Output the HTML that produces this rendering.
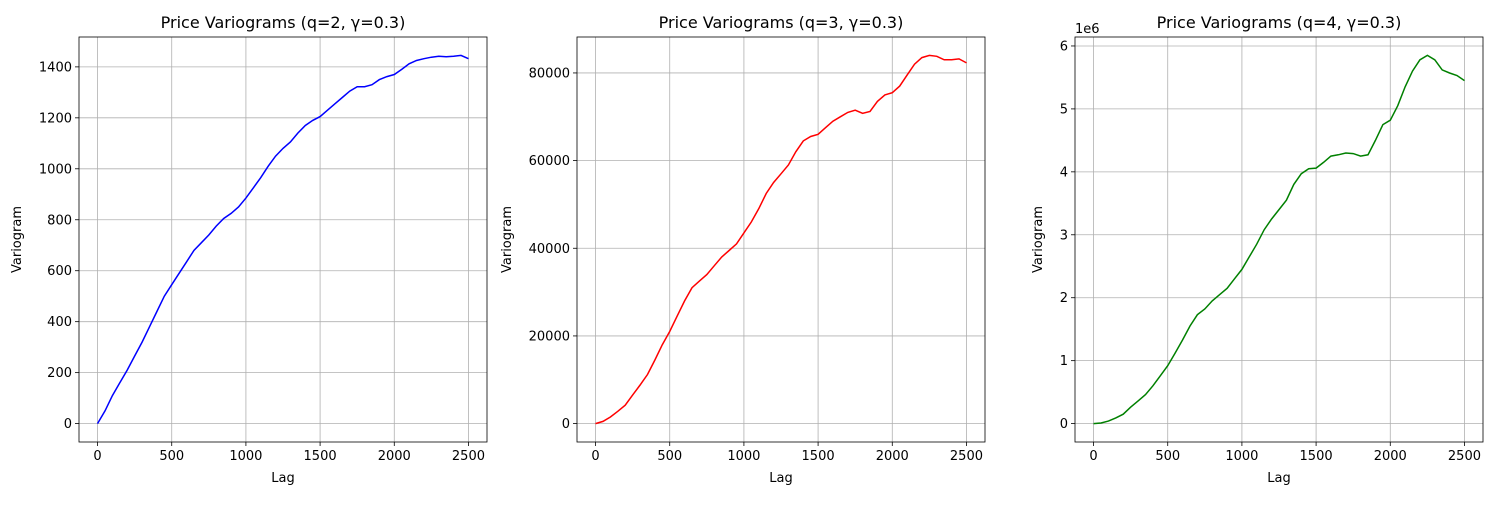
<!DOCTYPE html>
<html><head><meta charset="utf-8"><style>
body{margin:0;background:#fff}
svg text{font-family:"DejaVu Sans","Liberation Sans",sans-serif;fill:#000}
</style></head><body>
<svg id="c" width="1500" height="500" xmlns="http://www.w3.org/2000/svg"></svg>
<script>
const lags=[0,50,100,150,200,250,300,350,400,450,500,550,600,650,700,750,800,850,900,950,1000,1050,1100,1150,1200,1250,1300,1350,1400,1450,1500,1550,1600,1650,1700,1750,1800,1850,1900,1950,2000,2050,2100,2150,2200,2250,2300,2350,2400,2450,2500];
const varQ2=[0,50,110,160,210,265,320,380,440,500,545,590,635,680,710,740,775,805,825,850,885,925,965,1010,1050,1080,1105,1140,1170,1190,1205,1230,1255,1280,1305,1322,1322,1330,1350,1362,1370,1390,1412,1425,1432,1438,1442,1440,1442,1445,1432];
const varQ3=[0,500,1500,2800,4200,6500,8800,11200,14500,18000,21000,24500,28000,31000,32500,34000,36000,38000,39500,41000,43500,46000,49000,52500,55000,57000,59000,62000,64500,65500,66000,67500,69000,70000,71000,71500,70800,71200,73500,75000,75500,77000,79500,82000,83500,84000,83800,83000,83000,83200,82300];
const varQ4=[0,0.01,0.04,0.09,0.15,0.26,0.36,0.46,0.6,0.76,0.92,1.12,1.33,1.55,1.73,1.82,1.95,2.05,2.15,2.3,2.45,2.65,2.85,3.08,3.25,3.4,3.55,3.8,3.97,4.05,4.06,4.15,4.25,4.27,4.3,4.29,4.25,4.27,4.5,4.75,4.82,5.05,5.35,5.6,5.78,5.85,5.78,5.62,5.57,5.53,5.45];
const xTicks=[0,500,1000,1500,2000,2500];
const yTicks1=[0,200,400,600,800,1000,1200,1400];
const yTicks2=[0,20000,40000,60000,80000];
const yTicks3=[0,1,2,3,4,5,6];
const titles=["Price Variograms (q=2, γ=0.3)","Price Variograms (q=3, γ=0.3)","Price Variograms (q=4, γ=0.3)"];
const NS="http://www.w3.org/2000/svg";
const svg=document.getElementById('c');
function el(t,a,p){const e=document.createElementNS(NS,t);for(const k in a)e.setAttribute(k,a[k]);(p||svg).appendChild(e);return e;}
const panels=[
 {x0:79,series:varQ2,ticks:yTicks1,color:"#0000ff",name:"q2"},
 {x0:577,series:varQ3,ticks:yTicks2,color:"#ff0000",name:"q3"},
 {x0:1075,series:varQ4,ticks:yTicks3,color:"#008000",name:"q4",off:"1e6"}];
const T=37,B=442,W=408;
panels.forEach((p,i)=>{
 const g=el('g',{});
 
 
 const ymax=Math.max(...p.series),ymin=Math.min(...p.series),r=ymax-ymin;
 const y0=ymin-0.05*r,y1=ymax+0.05*r;
 const xmin=-125,xmax=2625;
 const X=v=>p.x0+(v-xmin)/(xmax-xmin)*W;
 const Y=v=>B-(v-y0)/(y1-y0)*(B-T);
 xTicks.forEach(t=>{
  el('line',{x1:X(t),x2:X(t),y1:T,y2:B,stroke:"#b0b0b0","stroke-width":0.8},g);
  el('line',{x1:X(t),x2:X(t),y1:B,y2:B+4,stroke:"#000","stroke-width":0.8},g);
  const tx=el('text',{x:X(t),y:B+18,"text-anchor":"middle","font-size":13},g);tx.textContent=t;
  
  
 });
 p.ticks.forEach(t=>{
  el('line',{x1:p.x0,x2:p.x0+W,y1:Y(t),y2:Y(t),stroke:"#b0b0b0","stroke-width":0.8},g);
  el('line',{x1:p.x0-4,x2:p.x0,y1:Y(t),y2:Y(t),stroke:"#000","stroke-width":0.8},g);
  const tx=el('text',{x:p.x0-7,y:Y(t)+4.5,"text-anchor":"end","font-size":13},g);tx.textContent=t;
  
  
 });
 const d=lags.map((l,j)=>(j?'L':'M')+X(l).toFixed(1)+','+Y(p.series[j]).toFixed(1)).join('');
 const path=el('path',{d:d,fill:"none",stroke:p.color,"stroke-width":1.5},g);
 
 
 el('rect',{x:p.x0,y:T,width:W,height:B-T,fill:"none",stroke:"#000","stroke-width":0.8},g);
 const tt=el('text',{x:p.x0+W/2,y:T-9,"text-anchor":"middle","font-size":16},g);tt.textContent=titles[i];
 
 
 const xl=el('text',{x:p.x0+W/2,y:482,"text-anchor":"middle","font-size":13},g);xl.textContent="Lag";
 
 
 const lx=p.x0-(i==0?58:i==1?66:33);
 const yl=el('text',{x:lx,y:(T+B)/2,"text-anchor":"middle","font-size":13,transform:`rotate(-90 ${lx} ${(T+B)/2})`},g);yl.textContent="Variogram";
 
 
 if(p.off){const o=el('text',{x:p.x0,y:T-4,"font-size":13},g);o.textContent=p.off;
  
  }
});
</script>
</body></html>
